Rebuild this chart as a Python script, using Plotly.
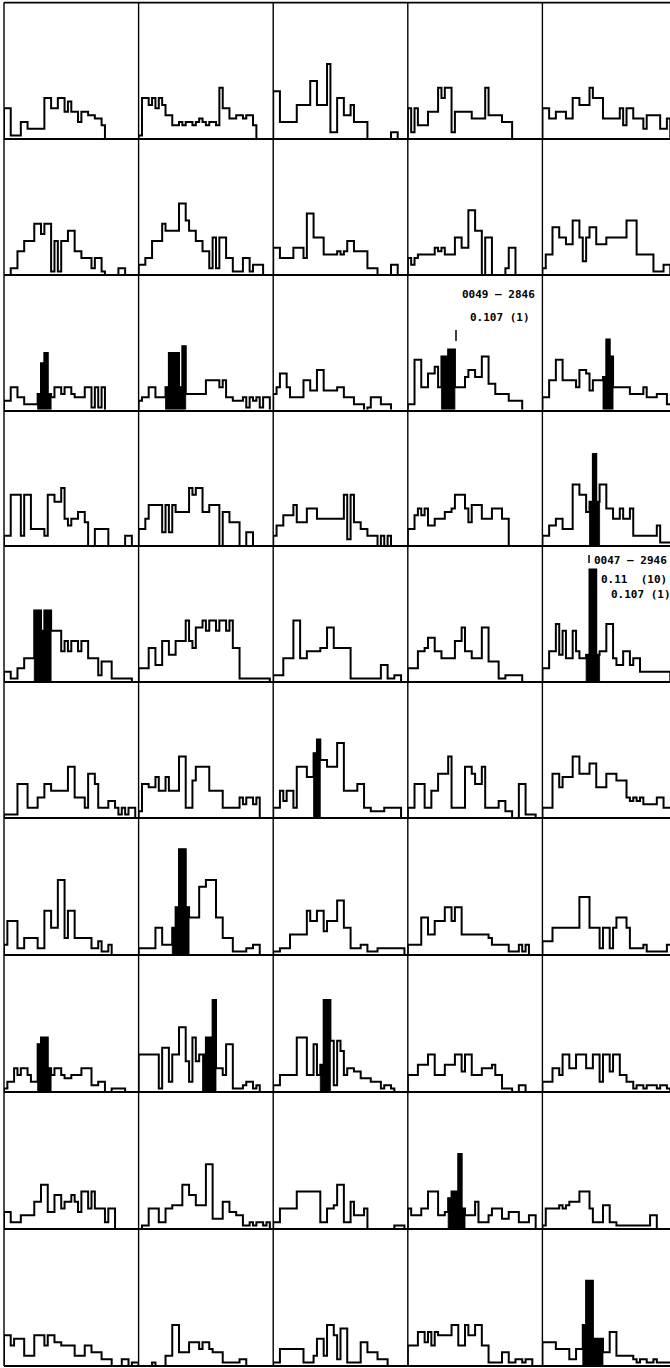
import plotly.graph_objects as go

# ---------------- histogram counts per panel (row r, column c), one value per bin ----------------
r1c1 = [9,9,1,1,1,5,5,3,3,3,3,3,12,12,9,9,12,12,8,11,8,8,5,8,8,7,7,6,6,4]
r1c2 = [1,12,12,10,12,9,12,10,7,7,4,4,5,4,5,5,4,5,6,5,4,5,5,4,15,9,9,6,6,7,7,6,7,7,4]
r1c3 = [14,14,5,5,5,5,5,10,10,10,10,17,17,10,10,10,22,2,2,12,12,7,7,10,5,5,5,5,0,0,0,0,0,0,0,2,2]
r1c4 = [9,2,9,4,4,4,8,8,8,15,12,15,15,2,8,8,8,8,8,6,6,6,6,15,7,7,7,7,5,5,5]
r1c5 = [9,9,6,6,8,8,8,6,6,12,12,10,10,10,15,12,12,12,6,6,6,6,6,9,4,9,9,6,6,6,3,7,7,7,7,3,3,6]

r2c1 = [0,0,2,2,7,7,10,10,10,15,15,12,15,15,1,10,1,10,10,13,13,7,7,5,5,5,2,5,5,1,0,0,0,0,2,2]
r2c2 = [3,3,5,5,10,10,10,15,13,13,13,13,21,21,16,13,13,10,10,7,7,2,11,2,11,11,5,5,1,1,1,5,5,1,3,3,3]
r2c3 = [8,8,5,5,5,5,8,8,8,5,18,18,11,11,11,6,6,6,6,7,6,7,10,10,7,7,7,7,2,2,2,0,0,0,0,3,3]
r2c4 = [5,3,5,6,6,6,6,6,8,7,8,6,6,6,11,11,8,8,19,19,13,13,0,11,11,0,0,0,0,2,8,8]
r2c5 = [2,6,6,14,14,11,11,9,9,16,16,11,4,11,14,14,9,9,9,11,11,11,11,11,11,16,16,16,6,6,6,6,6,1,1,1,3,3]

r3c1 = [3,3,7,7,4,4,2,2,2,2,5,14,17,5,4,7,7,5,7,7,5,4,4,4,7,7,1,7,1,7]
r3c2 = [3,4,4,7,7,4,4,4,7,17,17,17,7,19,5,5,5,5,5,5,9,9,9,9,7,9,4,4,3,3,3,4,1,4,3,4,1,4,4]
r3c3 = [5,7,11,11,7,4,4,4,4,9,9,6,6,12,12,6,6,6,6,7,7,4,4,4,2,2,2,0,1,4,4,4,2,2,2]
r3c4 = [2,2,15,15,7,7,11,11,13,7,16,16,18,18,7,7,7,10,12,12,10,10,16,16,8,8,5,5,5,5,3,3,3,3]
r3c5 = [4,4,9,9,15,15,9,9,9,9,7,12,12,11,6,9,9,9,10,21,16,7,7,7,7,7,5,5,5,5,7,4,4,4,5,5,5,2,2]

r4c1 = [3,3,15,15,15,3,15,15,5,5,5,5,3,15,15,13,13,17,8,6,8,8,10,10,7,0,0,5,5,5,5,0,0,0,0,0,3,3]
r4c2 = [5,5,8,12,12,12,12,4,12,4,12,10,10,10,10,17,15,17,17,10,10,12,12,12,0,10,10,7,7,7,0,0,4,4]
r4c3 = [3,6,6,9,9,9,12,7,7,7,11,11,11,8,8,8,8,8,8,8,8,15,2,15,7,7,5,5,3,3,3,0,3,0,3]
r4c4 = [5,5,9,11,9,11,6,6,8,8,8,10,10,11,15,15,15,11,7,12,12,12,8,8,8,11,11,11,8,8]
r4c5 = [3,3,6,6,8,8,5,5,5,18,18,15,15,10,13,27,13,18,18,11,11,8,8,11,8,8,11,3,3,3,3,3,3,3,6,1,1,1,1]

r5c1 = [3,3,1,1,4,4,7,7,7,21,21,15,21,21,15,15,15,9,12,9,12,12,9,12,12,7,7,7,2,6,6,6,1,1,1,1,1,1]
r5c2 = [4,4,4,10,10,5,5,12,12,8,8,12,12,12,18,12,10,16,16,18,15,18,18,15,18,18,15,18,10,10,1,1,1,1,1,1,1,1,1]
r5c3 = [2,2,2,7,7,7,18,18,7,7,9,9,9,9,10,10,16,16,10,10,10,10,10,1,1,1,1,1,1,1,1,1,5,5,1,1,2,2]
r5c4 = [4,4,4,9,9,10,13,13,9,9,7,7,7,7,12,12,16,9,9,7,7,7,16,16,6,6,6,1,1,2,2,2,2,2]
r5c5 = [4,4,9,9,17,8,15,7,7,15,9,7,7,8,33,33,8,9,9,17,17,7,5,5,9,9,5,7,7,3,3,3,3,3,3,3,3,3]

r6c1 = [1,1,1,1,10,10,10,3,3,3,6,6,10,10,8,8,8,8,8,15,15,6,6,6,3,13,13,10,3,3,3,5,5,3,1,3,1,3,3]
r6c2 = [2,10,10,9,9,12,8,8,12,8,8,8,18,18,3,3,11,15,15,15,15,8,8,8,8,3,3,3,3,3,6,4,6,6,4,6]
r6c3 = [3,3,8,5,8,8,3,15,15,15,12,12,19,23,17,17,15,15,15,22,22,8,8,8,8,10,10,3,3,2,2,2,2,3,3,3,3,3]
r6c4 = [3,3,10,10,10,3,3,8,8,13,13,13,18,3,3,3,3,15,15,13,10,10,15,3,3,3,3,5,5,2,2,0,0,10,10,1,1,1]
r6c5 = [3,3,3,13,13,9,12,12,12,18,18,13,13,13,16,16,9,9,9,13,13,13,11,11,11,6,5,6,5,6,4,4,4,4,6,6,3,3,3]

r7c1 = [3,10,10,10,2,2,5,5,5,5,2,2,13,13,8,8,22,22,5,13,13,5,5,5,5,5,2,2,4,1,1,3]
r7c2 = [2,2,2,2,2,8,8,3,3,3,8,14,31,31,14,11,11,11,20,20,22,22,22,11,11,5,5,5,1,1,1,1,2,2,3,3]
r7c3 = [1,1,2,2,2,6,6,6,6,6,13,10,10,13,13,7,10,10,10,16,16,8,8,2,2,2,3,3,1,1,1,2,2,2,2,2,2,2,2]
r7c4 = [3,3,3,3,11,11,6,6,10,10,10,14,14,10,14,14,6,6,6,6,6,6,6,6,5,3,3,3,3,3,1,1,1,3,1,3]
r7c5 = [4,4,4,8,8,8,8,8,8,8,8,17,17,17,8,8,8,2,8,8,2,8,11,11,11,8,2,2,2,2,3,1,1,1,1,1,1,3,3]

r8c1 = [1,3,3,7,5,7,7,5,3,3,14,16,16,7,5,7,7,5,4,4,5,5,5,7,7,7,2,2,3,3,0,0,1,1,1,1]
r8c2 = [11,11,11,11,11,11,1,13,13,3,11,11,19,19,9,3,16,9,11,11,16,16,27,7,7,5,14,14,1,1,1,2,3,3,1,2]
r8c3 = [2,2,5,5,5,5,5,16,16,16,5,5,14,5,8,27,27,15,2,15,12,5,7,7,6,6,4,4,4,3,3,3,1,2,2,1]
r8c4 = [5,5,5,8,8,8,11,11,5,5,5,8,8,8,11,11,6,11,11,5,5,5,7,7,7,8,5,5,1,1,1,0,0,2,2]
r8c5 = [3,3,3,7,7,5,11,11,7,7,11,11,11,7,7,11,11,3,11,11,6,11,11,5,5,3,3,1,2,2,1,2,2,2,1,2,2,1]

r9c1 = [5,5,2,2,2,4,4,4,4,8,8,13,13,5,5,10,10,6,8,8,10,8,5,11,11,6,11,6,6,6,2,6,6]
r9c2 = [0,1,1,6,6,6,2,2,6,6,7,7,7,13,13,10,10,7,7,7,19,19,3,3,3,8,8,5,5,4,4,1,1,2,1,2,2,1,2]
r9c3 = [2,2,6,6,6,6,6,11,11,11,11,11,11,11,2,2,6,6,7,13,13,2,2,8,4,4,4,6,0,0,0,0,0,0,0,0,1,1,1]
r9c4 = [6,4,4,4,6,6,11,11,11,4,4,5,9,11,11,22,6,4,4,4,8,2,2,2,4,6,6,6,3,3,5,5,5,2,2,2,4,4]
r9c5 = [1,6,6,6,6,7,6,7,8,8,8,11,11,11,6,2,2,2,7,7,2,2,1,1,1,1,1,1,1,1,1,1,4,4]

r10c1 = [9,9,6,8,8,8,3,3,3,9,9,9,6,9,9,7,7,6,6,6,6,3,3,3,6,6,4,4,4,2,2,2,0,0,0,2,2,0,1,1]
r10c2 = [0,0,0,0,1,0,0,0,3,3,12,12,4,4,4,7,7,7,5,7,7,5,4,4,4,1,1,1,1,1,2,2]
r10c3 = [1,1,5,5,5,5,5,5,5,1,1,1,3,8,8,3,12,12,9,2,11,11,1,1,1,1,7,7,4,4,4,2,2,2]
r10c4 = [6,6,6,10,10,7,10,6,10,9,9,9,9,12,12,6,6,12,9,9,12,12,6,6,1,1,1,1,4,4,1,1,2,2,1,2,2]
r10c5 = [7,7,7,7,5,5,5,5,2,2,5,5,12,25,25,8,8,8,4,4,10,10,3,3,3,3,3,2,1,2,2,1,1,2,1,1,1,1,1]

# ---------------- bins drawn solid black (bin indices, contiguous) ----------------
r3c1_fill = [10, 11, 12, 13]
r3c2_fill = [8, 9, 10, 11, 12, 13]
r3c4_fill = [10, 11, 12, 13]
r3c5_fill = [18, 19, 20]
r4c5_fill = [14, 15, 16]
r5c1_fill = [9, 10, 11, 12, 13]
r5c5_fill = [13, 14, 15, 16]
r6c3_fill = [12, 13]
r7c2_fill = [10, 11, 12, 13, 14]
r8c1_fill = [10, 11, 12, 13]
r8c2_fill = [19, 20, 21, 22]
r8c3_fill = [14, 15, 16]
r9c4_fill = [12, 13, 14, 15, 16]
r10c5_fill = [12, 13, 14, 15, 16, 17]

# ---------------- labels ----------------
label_0049 = ["0049 – 2846", "0.107 (1)"]
label_0047 = ["0047 – 2946", "0.11  (10)", "0.107 (1)"]

panels = [
    [r1c1, r1c2, r1c3, r1c4, r1c5],
    [r2c1, r2c2, r2c3, r2c4, r2c5],
    [r3c1, r3c2, r3c3, r3c4, r3c5],
    [r4c1, r4c2, r4c3, r4c4, r4c5],
    [r5c1, r5c2, r5c3, r5c4, r5c5],
    [r6c1, r6c2, r6c3, r6c4, r6c5],
    [r7c1, r7c2, r7c3, r7c4, r7c5],
    [r8c1, r8c2, r8c3, r8c4, r8c5],
    [r9c1, r9c2, r9c3, r9c4, r9c5],
    [r10c1, r10c2, r10c3, r10c4, r10c5],
]
fills = {
    (2, 0): r3c1_fill, (2, 1): r3c2_fill, (2, 3): r3c4_fill, (2, 4): r3c5_fill,
    (3, 4): r4c5_fill, (4, 0): r5c1_fill, (4, 4): r5c5_fill, (5, 2): r6c3_fill,
    (6, 1): r7c2_fill, (7, 0): r8c1_fill, (7, 1): r8c2_fill, (7, 2): r8c3_fill,
    (8, 3): r9c4_fill, (9, 4): r10c5_fill,
}

# ---------------- geometry ----------------
W, H = 670, 1368
COL_L = [4, 138.6, 273.2, 407.8, 542.4]
COL_W = 134.6
ROW_B = [139, 275, 411, 546, 682, 818, 955, 1092, 1229, 1366]
ROW_H = 136.4
NB = 40      # bins per panel width
YMAX = 40    # counts per panel height

fig = go.Figure()
axes = {}
for r in range(10):
    for c in range(5):
        k = r * 5 + c + 1
        sfx = "" if k == 1 else str(k)
        vals = panels[r][c]
        n = len(vals)
        right = min(COL_L[c] + COL_W, W)
        xr = NB * (right - COL_L[c]) / COL_W
        axes["xaxis" + sfx] = dict(domain=[COL_L[c] / W, right / W], range=[0, xr],
                                   visible=False, anchor="y" + sfx, fixedrange=True)
        axes["yaxis" + sfx] = dict(domain=[(H - ROW_B[r]) / H, (H - ROW_B[r] + ROW_H) / H],
                                   range=[0, YMAX], visible=False, anchor="x" + sfx, fixedrange=True)
        fb = fills.get((r, c), [])
        if fb:
            px, py = [fb[0]], [0]
            for i in fb:
                px += [i, i + 1]
                py += [vals[i], vals[i]]
            px.append(fb[-1] + 1)
            py.append(0)
            fig.add_trace(go.Scatter(
                x=px, y=py, mode="lines", fill="toself", fillcolor="black",
                line=dict(color="black", width=0.8),
                xaxis="x" + sfx, yaxis="y" + sfx, hoverinfo="skip"))
        xs = [0] + list(range(n)) + [n]
        ys = [0] + vals + [0]
        fig.add_trace(go.Scatter(
            x=xs, y=ys, mode="lines",
            line=dict(color="black", width=2.0, shape="hv"),
            xaxis="x" + sfx, yaxis="y" + sfx, hoverinfo="skip"))

# grid frame
shapes = []
TOP = ROW_B[0] - ROW_H
for yb in [TOP] + ROW_B:
    shapes.append(dict(type="line", xref="paper", yref="paper",
                       x0=COL_L[0] / W, x1=1, y0=1 - yb / H, y1=1 - yb / H,
                       line=dict(color="black", width=1.8)))
for xl in COL_L:
    shapes.append(dict(type="line", xref="paper", yref="paper",
                       x0=xl / W, x1=xl / W, y0=1 - TOP / H, y1=1 - ROW_B[-1] / H,
                       line=dict(color="black", width=1.4)))
# markers above the highlighted bars
shapes.append(dict(type="line", xref="paper", yref="paper",
                   x0=456 / W, x1=456 / W, y0=1 - 330 / H, y1=1 - 341 / H,
                   line=dict(color="black", width=1.5)))
shapes.append(dict(type="line", xref="paper", yref="paper",
                   x0=589 / W, x1=589 / W, y0=1 - 555 / H, y1=1 - 563 / H,
                   line=dict(color="black", width=1.5)))

fnt = dict(family="DejaVu Sans Mono", size=11, color="black")
annotations = [
    dict(text="<b>" + label_0049[0] + "</b>", x=537 / W, y=1 - 294 / H, xanchor="right"),
    dict(text="<b>" + label_0049[1] + "</b>", x=532 / W, y=1 - 318 / H, xanchor="right"),
    dict(text="<b>" + label_0047[0] + "</b>", x=592 / W, y=1 - 560 / H, xanchor="left"),
    dict(text="<b>" + label_0047[1] + "</b>", x=669 / W, y=1 - 579 / H, xanchor="right"),
    dict(text="<b>" + label_0047[2] + "</b>", x=609 / W, y=1 - 595 / H, xanchor="left"),
]
for a in annotations:
    a.update(xref="paper", yref="paper", yanchor="middle", showarrow=False, font=fnt)

fig.update_layout(
    width=W, height=H,
    margin=dict(l=0, r=0, t=0, b=0),
    paper_bgcolor="white", plot_bgcolor="white",
    showlegend=False, hovermode=False,
    shapes=shapes, annotations=annotations,
    **axes,
)
fig.write_html("out.html", config={"displayModeBar": False},
               post_script="document.body.style.margin='0';document.body.style.overflow='hidden';")
